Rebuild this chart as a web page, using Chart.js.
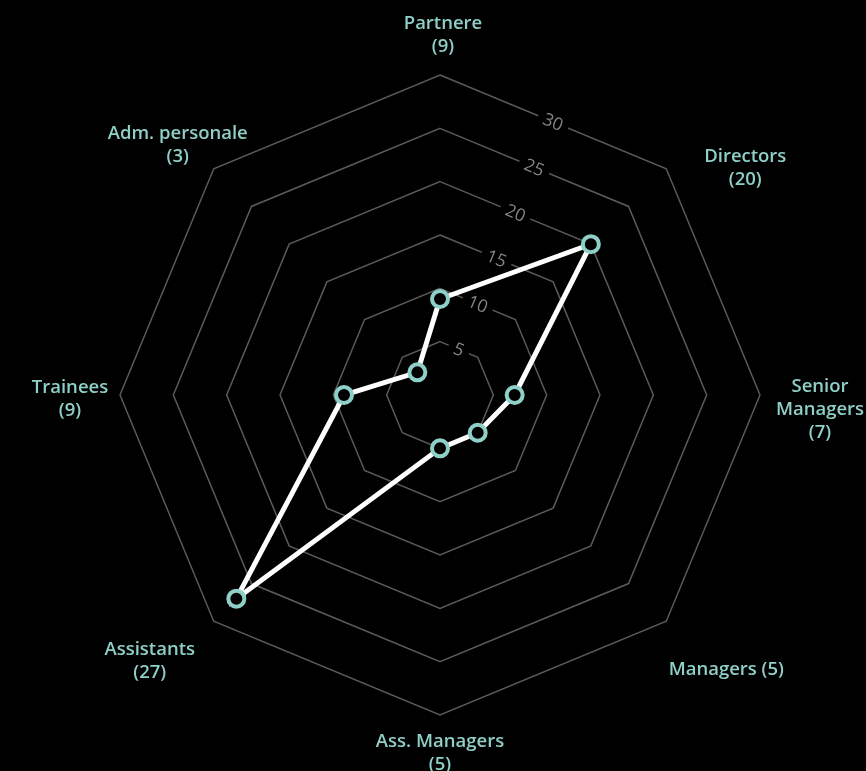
<!DOCTYPE html>
<html>
<head>
<meta charset="utf-8">
<script src="https://cdn.jsdelivr.net/npm/chart.js@4"></script>
<style>
  html, body { margin: 0; padding: 0; background: #000; }
  #wrap { width: 866px; height: 771px; position: relative; }
</style>
</head>
<body>
<div id="wrap"><canvas id="c"></canvas></div>
<script>
// ---- data ----
const categories = ["Partnere", "Directors", "Senior Managers", "Managers", "Ass. Managers", "Assistants", "Trainees", "Adm. personale"];
const values = [9, 20, 7, 5, 5, 27, 9, 3];
const labelLines = [
  ["Partnere", "(9)"],
  ["Directors", "(20)"],
  ["Senior", "Managers", "(7)"],
  ["Managers (5)"],
  ["Ass. Managers", "(5)"],
  ["Assistants", "(27)"],
  ["Trainees", "(9)"],
  ["Adm. personale", "(3)"]
];
const tickValues = [5, 10, 15, 20, 25, 30];
const axisMax = 30;

// ---- label placement relative to outer vertex (px) ----
const labelNudge = [[3, -40], [79, 0], [60, 15], [60, 48], [0, 38], [-64, 40], [-50, 4], [-36, -23]];

const TEAL = '#8ed0c8';

const customText = {
  id: 'customText',
  beforeDatasetsDraw(chart) {
    const s = chart.scales.r;
    const ctx = chart.ctx;
    const a = Math.PI / 8;
    ctx.save();
    ctx.font = '17.5px "Open Sans"';
    ctx.textAlign = 'center';
    ctx.textBaseline = 'middle';
    tickValues.forEach(v => {
      const d = s.getDistanceFromCenterForValue(v) * Math.cos(a);
      const x = s.xCenter + Math.sin(a) * d;
      const y = s.yCenter - Math.cos(a) * d;
      ctx.save();
      ctx.translate(x, y);
      ctx.rotate(a);
      const w = ctx.measureText(String(v)).width;
      ctx.fillStyle = '#000';
      ctx.fillRect(-w / 2 - 6, -9, w + 12, 18);
      ctx.fillStyle = '#858585';
      ctx.fillText(String(v), 0, 1);
      ctx.restore();
    });
    ctx.restore();
  },
  afterDraw(chart) {
    const s = chart.scales.r;
    const ctx = chart.ctx;
    ctx.save();
    ctx.font = '600 18.5px "Open Sans"';
    ctx.textAlign = 'center';
    ctx.textBaseline = 'middle';
    ctx.fillStyle = TEAL;
    const lh = 23;
    labelLines.forEach((lines, i) => {
      const p = s.getPointPosition(i, s.drawingArea);
      const cx = p.x + labelNudge[i][0];
      const cy = p.y + labelNudge[i][1];
      const top = cy - (lines.length - 1) * lh / 2;
      lines.forEach((t, k) => ctx.fillText(t, cx, top + k * lh));
    });
    ctx.restore();
  }
};

new Chart(document.getElementById('c'), {
  type: 'radar',
  data: {
    labels: categories,
    datasets: [{
      data: values,
      borderColor: '#ffffff',
      borderWidth: 5,
      fill: false,
      backgroundColor: 'transparent',
      pointRadius: 8,
      pointHoverRadius: 8,
      pointBorderWidth: 4,
      pointBorderColor: TEAL,
      pointBackgroundColor: '#000000',
      tension: 0
    }]
  },
  options: {
    responsive: true,
    maintainAspectRatio: false,
    animation: false,
    layout: { padding: { left: 120, right: 106, top: 75, bottom: 56 } },
    plugins: { legend: { display: false }, tooltip: { enabled: false } },
    scales: {
      r: {
        min: 0,
        max: axisMax,
        ticks: { display: false, stepSize: 5 },
        pointLabels: { display: false },
        angleLines: { display: false },
        grid: { color: '#5a5a5a', lineWidth: 1.5 }
      }
    }
  },
  plugins: [customText]
});
</script>
</body>
</html>
